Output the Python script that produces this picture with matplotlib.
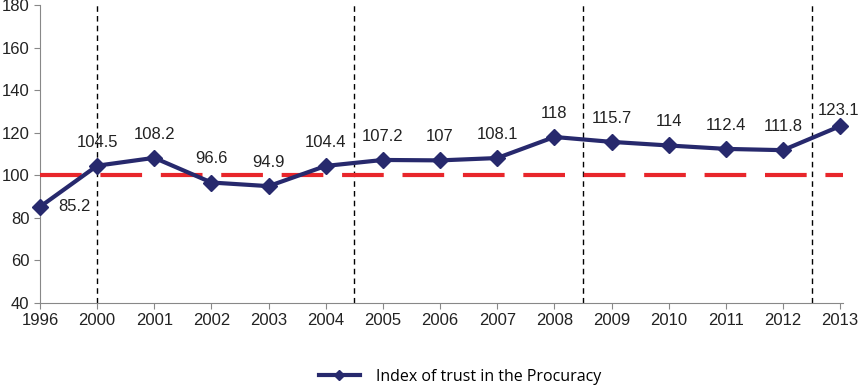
import matplotlib
matplotlib.use("Agg")
import matplotlib.pyplot as plt

years = ["1996", "2000", "2001", "2002", "2003", "2004", "2005", "2006",
         "2007", "2008", "2009", "2010", "2011", "2012", "2013"]
trust_index = [85.2, 104.5, 108.2, 96.6, 94.9, 104.4, 107.2, 107,
               108.1, 118, 115.7, 114, 112.4, 111.8, 123.1]
label_texts = ["85.2", "104.5", "108.2", "96.6", "94.9", "104.4", "107.2", "107",
               "108.1", "118", "115.7", "114", "112.4", "111.8", "123.1"]
period_breaks = [1, 5.5, 9.5, 13.5]
baseline = 100

navy = "#27296d"
plt.rcParams["font.family"] = ["Liberation Sans", "DejaVu Sans"]

fig = plt.figure(figsize=(8.58, 3.86), dpi=100)
ax = fig.add_axes([40 / 858, 1 - 303 / 386, 803 / 858, 298 / 386])

x = list(range(len(years)))
ax.plot(x, trust_index, color=navy, linewidth=3, marker="D", markersize=8,
        label="Index of trust in the Procuracy", zorder=4, clip_on=False)

ax.axhline(baseline, color="#e8262b", linewidth=3, dashes=(10, 4.5), zorder=3)
for xb in period_breaks:
    ax.axvline(xb, color="black", linewidth=1, dashes=(4, 3), zorder=2)

for i, (xi, v, t) in enumerate(zip(x, trust_index, label_texts)):
    if i == 0:
        ax.annotate(t, (xi, v), xytext=(25, 0), textcoords="offset points",
                    ha="center", va="center", fontsize=12, color="#222222")
    elif i == len(years) - 1:
        ax.annotate(t, (xi, v), xytext=(-1, 11), textcoords="offset points",
                    ha="center", va="center", fontsize=12, color="#222222")
    else:
        ax.annotate(t, (xi, v), xytext=(0, 17), textcoords="offset points",
                    ha="center", va="center", fontsize=12, color="#222222")

ax.set_xlim(0, 14.05)
ax.set_ylim(40, 180)
ax.set_yticks(range(40, 181, 20))
ax.set_xticks(x)
ax.set_xticklabels(years)
ax.tick_params(labelsize=12, colors="#222222", length=4, color="#888888")
for side in ["top", "right"]:
    ax.spines[side].set_visible(False)
for side in ["left", "bottom"]:
    ax.spines[side].set_color("#888888")

fig.legend(loc="center", bbox_to_anchor=(460 / 858, 1 - 377 / 386), frameon=False,
           prop={"family": "Open Sans", "size": 11.5}, handlelength=2.6,
           handletextpad=1.0, markerscale=0.6)

fig.savefig("out.png", dpi=100)
